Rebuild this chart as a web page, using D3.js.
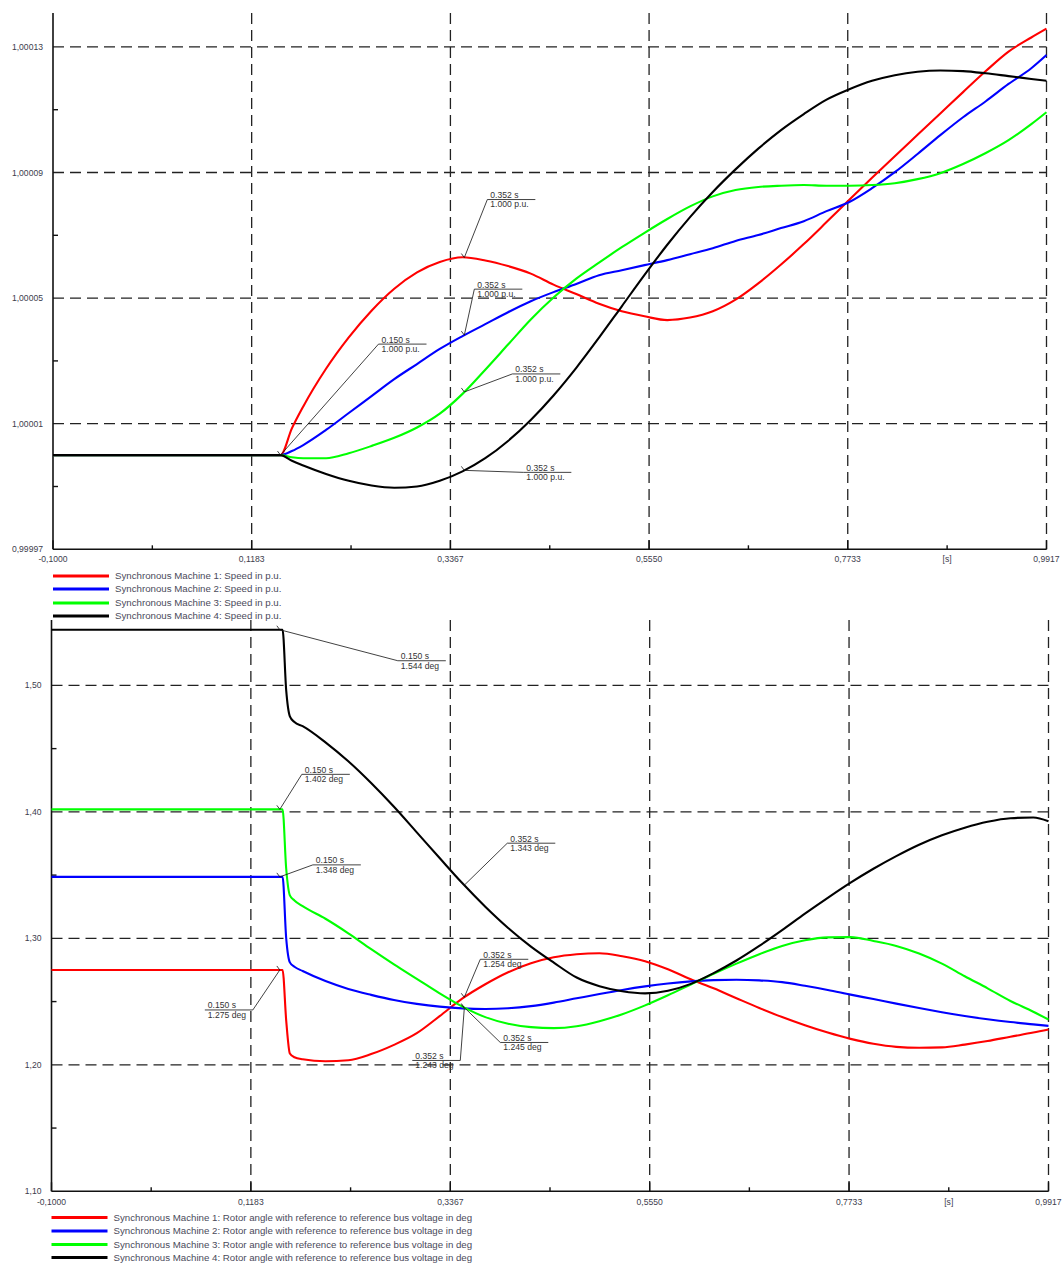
<!DOCTYPE html>
<html><head><meta charset="utf-8">
<script src="https://cdn.jsdelivr.net/npm/d3@7"></script>
<style>
body{margin:0;background:#fff}
text{font-family:"Liberation Sans",Arial,sans-serif}
</style>
</head><body>
<svg id="c" width="1062" height="1263"></svg>
<script>
// ---------------- DATA ----------------
const xTickValues = [-0.1, 0.1183, 0.3367, 0.5550, 0.7733, 0.9917];
const xTickLabels = ["-0,1000", "0,1183", "0,3367", "0,5550", "0,7733", "0,9917"];
const xUnitLabel = "[s]";

// Speed chart
const speedTickValues = [0.99997, 1.00001, 1.00005, 1.00009, 1.00013];
const speedTickLabels = ["0,99997", "1,00001", "1,00005", "1,00009", "1,00013"];
const speedTime = [-0.1, 0.150, 0.1625, 0.175, 0.200, 0.225, 0.250, 0.275, 0.300, 0.325, 0.350, 0.375, 0.400, 0.425, 0.450, 0.475, 0.500, 0.525, 0.550, 0.575, 0.600, 0.625, 0.650, 0.675, 0.700, 0.725, 0.750, 0.775, 0.800, 0.825, 0.850, 0.875, 0.900, 0.925, 0.950, 0.975, 0.9917];
const speedM1 = [1, 1, 1.0000085, 1.0000155, 1.0000275, 1.0000375, 1.000046, 1.000053, 1.0000582, 1.0000615, 1.000063, 1.000062, 1.0000602, 1.0000578, 1.0000543, 1.0000513, 1.0000482, 1.0000458, 1.0000442, 1.000043, 1.0000438, 1.0000458, 1.0000495, 1.0000547, 1.0000607, 1.0000672, 1.0000742, 1.0000813, 1.0000883, 1.0000952, 1.000102, 1.0001088, 1.0001156, 1.0001223, 1.0001285, 1.000133, 1.0001358];
const speedM2 = [1, 1, 1.0000013, 1.0000032, 1.000008, 1.0000134, 1.0000188, 1.0000242, 1.000029, 1.0000338, 1.0000379, 1.0000417, 1.0000455, 1.000049, 1.0000519, 1.0000545, 1.0000573, 1.0000589, 1.0000605, 1.0000621, 1.000064, 1.0000659, 1.0000682, 1.0000701, 1.0000723, 1.0000745, 1.0000777, 1.0000806, 1.000085, 1.0000901, 1.0000959, 1.0001019, 1.0001076, 1.0001127, 1.0001182, 1.0001232, 1.0001274];
const speedM3 = [1, 1, 0.9999993, 0.999999, 0.999999, 1.0000006, 1.0000029, 1.0000055, 1.0000088, 1.0000132, 1.0000195, 1.0000272, 1.0000352, 1.0000432, 1.0000502, 1.0000562, 1.0000613, 1.0000662, 1.0000708, 1.0000752, 1.0000792, 1.0000824, 1.0000844, 1.0000854, 1.0000858, 1.000086, 1.0000858, 1.0000858, 1.000086, 1.0000866, 1.0000879, 1.0000898, 1.0000927, 1.0000962, 1.0001003, 1.0001054, 1.0001092];
const speedM4 = [1, 1, 0.9999982, 0.9999967, 0.999994, 0.9999918, 0.9999903, 0.9999896, 0.99999, 0.9999918, 0.9999948, 0.999999, 1.0000045, 1.0000112, 1.000019, 1.0000278, 1.0000374, 1.0000474, 1.0000574, 1.000067, 1.0000758, 1.0000838, 1.000091, 1.0000976, 1.0001035, 1.0001086, 1.0001132, 1.0001165, 1.0001192, 1.000121, 1.0001221, 1.0001225, 1.0001223, 1.0001216, 1.0001207, 1.0001198, 1.0001192];
const speedLegend = ["Synchronous Machine 1: Speed in p.u.", "Synchronous Machine 2: Speed in p.u.", "Synchronous Machine 3: Speed in p.u.", "Synchronous Machine 4: Speed in p.u."];
const speedAnnSeries = [0, 0, 1, 2, 3];
const speedAnnTime = [0.150, 0.352, 0.352, 0.352, 0.352];
const speedAnnText1 = ["0.150 s", "0.352 s", "0.352 s", "0.352 s", "0.352 s"];
const speedAnnText2 = ["1.000 p.u.", "1.000 p.u.", "1.000 p.u.", "1.000 p.u.", "1.000 p.u."];

// Rotor angle chart
const angleTickValues = [1.10, 1.20, 1.30, 1.40, 1.50];
const angleTickLabels = ["1,10", "1,20", "1,30", "1,40", "1,50"];
const angleTime = [-0.1, 0.150, 0.153, 0.157, 0.161, 0.166, 0.175, 0.200, 0.225, 0.250, 0.275, 0.300, 0.325, 0.350, 0.375, 0.400, 0.425, 0.450, 0.475, 0.500, 0.525, 0.550, 0.575, 0.600, 0.625, 0.650, 0.675, 0.700, 0.725, 0.750, 0.775, 0.800, 0.825, 0.850, 0.875, 0.900, 0.925, 0.950, 0.975, 0.9917];
const angleM1 = [1.275, 1.275, 1.275, 1.235, 1.209, 1.206, 1.2044, 1.2028, 1.2036, 1.2085, 1.2158, 1.2250, 1.2385, 1.2525, 1.2637, 1.2732, 1.2803, 1.2850, 1.2874, 1.2882, 1.2858, 1.2819, 1.2755, 1.2676, 1.2605, 1.2527, 1.2450, 1.2378, 1.2313, 1.2255, 1.2205, 1.2166, 1.2142, 1.2135, 1.2138, 1.2160, 1.2188, 1.2222, 1.2255, 1.2280];
const angleM2 = [1.3486, 1.3486, 1.3486, 1.300, 1.281, 1.2775, 1.2742, 1.2662, 1.2600, 1.2553, 1.2512, 1.2482, 1.2460, 1.2446, 1.2441, 1.2447, 1.2464, 1.2492, 1.2526, 1.2560, 1.2592, 1.2620, 1.2643, 1.2660, 1.2670, 1.2673, 1.2668, 1.2654, 1.2625, 1.2592, 1.2555, 1.2520, 1.2484, 1.2449, 1.2416, 1.2386, 1.2360, 1.2338, 1.2320, 1.2308];
const angleM3 = [1.402, 1.402, 1.402, 1.355, 1.334, 1.330, 1.3254, 1.3155, 1.3040, 1.2915, 1.2795, 1.2680, 1.2565, 1.2460, 1.2377, 1.2325, 1.2298, 1.2290, 1.2305, 1.2345, 1.2400, 1.2470, 1.2550, 1.2635, 1.2720, 1.2800, 1.2875, 1.2940, 1.2985, 1.3008, 1.3010, 1.2979, 1.2940, 1.2880, 1.2800, 1.2700, 1.2605, 1.2505, 1.2420, 1.2358];
const angleM4 = [1.544, 1.544, 1.544, 1.496, 1.4755, 1.471, 1.4678, 1.4550, 1.4400, 1.4228, 1.4040, 1.3838, 1.3635, 1.3435, 1.3250, 1.3082, 1.2935, 1.2808, 1.2690, 1.2622, 1.2582, 1.2565, 1.2585, 1.2640, 1.2725, 1.2825, 1.2940, 1.3065, 1.3195, 1.3320, 1.3440, 1.3550, 1.3650, 1.3740, 1.3815, 1.3875, 1.3922, 1.3950, 1.3955, 1.3925];
const angleLegend = ["Synchronous Machine 1: Rotor angle with reference to reference bus voltage in deg", "Synchronous Machine 2: Rotor angle with reference to reference bus voltage in deg", "Synchronous Machine 3: Rotor angle with reference to reference bus voltage in deg", "Synchronous Machine 4: Rotor angle with reference to reference bus voltage in deg"];
const angleAnnSeries = [3, 2, 1, 0, 3, 0, 2, 1];
const angleAnnTime = [0.150, 0.150, 0.150, 0.150, 0.352, 0.352, 0.352, 0.352];
const angleAnnText1 = ["0.150 s", "0.150 s", "0.150 s", "0.150 s", "0.352 s", "0.352 s", "0.352 s", "0.352 s"];
const angleAnnText2 = ["1.544 deg", "1.402 deg", "1.348 deg", "1.275 deg", "1.343 deg", "1.254 deg", "1.245 deg", "1.243 deg"];

const seriesColors = ["#ff0000", "#0000ff", "#00ff00", "#000000"];

// ---------------- LAYOUT ----------------
const svg = d3.select("#c");
svg.append("rect").attr("width", 1062).attr("height", 1263).attr("fill", "#fff");

const topLayout = {x0: 53, x1: 1046.5, yTop: 13, yBot: 549.3, yDomainTop: 1.0001408, yMin: 0.99997,
  legendY: [576, 589, 603, 616], labelY: 562,
  annOffsets: [[98, -111, "r"], [23, -58, "r"], [10, -46, "r"], [48, -18, "r"], [59, 2, "r"]]};
const botLayout = {x0: 51.5, x1: 1048.5, yTop: 620, yBot: 1191.3, yDomainTop: 1.5517, yMin: 1.10,
  legendY: [1217.5, 1231, 1244.5, 1257.5], labelY: 1205,
  annOffsets: [[118, 31, "r"], [22, -35, "r"], [33, -12, "r"], [-27, 40, "l"], [43, -42, "r"], [16, -38, "r"], [36, 35, "r"], [-4, 52, "l"]]};

function interp(times, vals, t) {
  const i = d3.bisectLeft(times, t);
  if (i <= 0) return vals[0];
  if (i >= times.length) return vals[vals.length - 1];
  const t0 = times[i - 1], t1 = times[i];
  const f = (t - t0) / (t1 - t0);
  return vals[i - 1] + f * (vals[i] - vals[i - 1]);
}

function drawChart(L, yTicks, yLabels, yMinor, times, series, legend, annS, annT, annT1, annT2) {
  const g = svg.append("g");
  const x = d3.scaleLinear().domain([xTickValues[0], xTickValues[xTickValues.length - 1]]).range([L.x0, L.x1]);
  const y = d3.scaleLinear().domain([L.yMin, L.yDomainTop]).range([L.yBot, L.yTop]);
  const gridStyle = sel => sel.attr("stroke", "#222").attr("stroke-width", 1.3).attr("stroke-dasharray", "11,6");

  g.selectAll(".hg").data(yTicks.slice(1)).enter().append("line")
    .attr("x1", L.x0).attr("x2", L.x1).attr("y1", d => y(d)).attr("y2", d => y(d)).call(gridStyle);
  g.selectAll(".vg").data(xTickValues.slice(1)).enter().append("line")
    .attr("x1", d => x(d)).attr("x2", d => x(d)).attr("y1", L.yTop).attr("y2", L.yBot).call(gridStyle);

  const axisG = g.append("g");
  axisG.append("line").attr("x1", L.x0).attr("x2", L.x0).attr("y1", L.yTop).attr("y2", L.yBot)
    .attr("stroke", "#111").attr("stroke-width", 1.6);
  axisG.append("line").attr("x1", L.x0).attr("x2", L.x1).attr("y1", L.yBot).attr("y2", L.yBot)
    .attr("stroke", "#111").attr("stroke-width", 1.6);
  axisG.selectAll(".xt").data(xTickValues).enter().append("line")
    .attr("x1", d => x(d)).attr("x2", d => x(d)).attr("y1", L.yBot).attr("y2", L.yBot - 9)
    .attr("stroke", "#111").attr("stroke-width", 1.4);
  const xMinor = d3.pairs(xTickValues).map(p => (p[0] + p[1]) / 2);
  axisG.selectAll(".xm").data(xMinor).enter().append("line")
    .attr("x1", d => x(d)).attr("x2", d => x(d)).attr("y1", L.yBot).attr("y2", L.yBot - 4)
    .attr("stroke", "#111").attr("stroke-width", 1.4);
  axisG.selectAll(".ym").data(yMinor).enter().append("line")
    .attr("x1", L.x0).attr("x2", L.x0 + 5).attr("y1", d => y(d)).attr("y2", d => y(d))
    .attr("stroke", "#111").attr("stroke-width", 1.4);

  const lab = g.append("g").attr("fill", "#3d3d4d").attr("font-size", "8.6px");
  lab.selectAll(".yl").data(yTicks).enter().append("text")
    .attr("x", L.x0 - 10).attr("y", d => y(d)).attr("dy", "0.35em").attr("text-anchor", "end")
    .text((d, i) => yLabels[i]);
  lab.selectAll(".xl").data(xTickValues).enter().append("text")
    .attr("x", d => x(d)).attr("y", L.labelY).attr("text-anchor", "middle")
    .text((d, i) => xTickLabels[i]);
  lab.append("text").attr("x", x(xMinor[xMinor.length - 1])).attr("y", L.labelY)
    .attr("text-anchor", "middle").text(xUnitLabel);

  const line = d3.line().x((d, i) => x(times[i])).y(d => y(d)).curve(d3.curveMonotoneX);
  series.forEach((s, k) => {
    g.append("path").attr("d", line(s)).attr("fill", "none")
      .attr("stroke", seriesColors[k]).attr("stroke-width", 2.1).attr("stroke-linejoin", "round");
  });

  const ag = g.append("g");
  annS.forEach((si, k) => {
    const px = x(annT[k]), py = y(interp(times, series[si], annT[k]));
    const off = L.annOffsets[k];
    const ax = px + off[0], ay = py + off[1];
    const w = 48;
    const x0 = off[2] === "l" ? ax - w : ax;
    ag.append("line").attr("x1", px).attr("y1", py).attr("x2", ax).attr("y2", ay)
      .attr("stroke", "#111").attr("stroke-width", 0.8);
    ag.append("line").attr("x1", px - 3).attr("y1", py - 4).attr("x2", px).attr("y2", py)
      .attr("stroke", "#111").attr("stroke-width", 0.8);
    ag.append("line").attr("x1", x0).attr("y1", ay).attr("x2", x0 + w).attr("y2", ay)
      .attr("stroke", "#111").attr("stroke-width", 0.8);
    ag.append("text").attr("x", x0 + 3).attr("y", ay - 1.5).attr("font-size", "8.6px").attr("fill", "#333")
      .text(annT1[k]);
    ag.append("text").attr("x", x0 + 3).attr("y", ay + 7.8).attr("font-size", "8.6px").attr("fill", "#333")
      .text(annT2[k]);
  });

  const lg = g.append("g");
  legend.forEach((txt, k) => {
    lg.append("line").attr("x1", L.x0).attr("x2", L.x0 + 56).attr("y1", L.legendY[k]).attr("y2", L.legendY[k])
      .attr("stroke", seriesColors[k]).attr("stroke-width", 3);
    lg.append("text").attr("x", L.x0 + 62).attr("y", L.legendY[k] + 3.3).attr("font-size", "9.7px")
      .attr("fill", "#4a4a5a").text(txt);
  });
}

drawChart(topLayout, speedTickValues, speedTickLabels, [0.99999, 1.00003, 1.00007, 1.00011],
  speedTime, [speedM1, speedM2, speedM3, speedM4], speedLegend,
  speedAnnSeries, speedAnnTime, speedAnnText1, speedAnnText2);
drawChart(botLayout, angleTickValues, angleTickLabels, [1.15, 1.25, 1.35, 1.45],
  angleTime, [angleM1, angleM2, angleM3, angleM4], angleLegend,
  angleAnnSeries, angleAnnTime, angleAnnText1, angleAnnText2);
</script>
</body></html>
